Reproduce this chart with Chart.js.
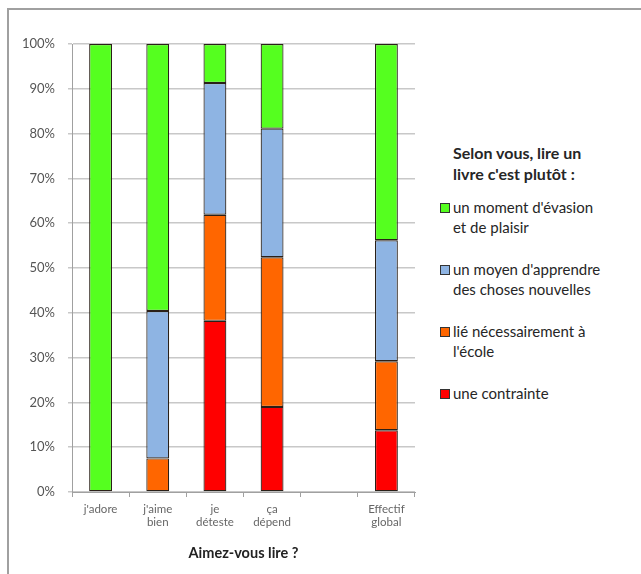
<!DOCTYPE html>
<html>
<head>
<meta charset="utf-8">
<script src="https://cdn.jsdelivr.net/npm/chart.js@4/dist/chart.umd.min.js"></script>
<style>
  html, body { margin: 0; padding: 0; background: #fff; }
  body { width: 641px; height: 574px; position: relative; overflow: hidden; font-family: Lato, "Open Sans", sans-serif; }
  .frame { position: absolute; left: 7px; top: 8px; right: -5px; bottom: -5px; border-top: 2px solid #a0a0a0; border-left: 2px solid #a0a0a0; }
  #wrap { position: absolute; left: 0; top: 0; width: 430px; height: 574px; }
  .legend { position: absolute; left: 440px; top: 142px; color: #262626; font-size: 15px; }
  .legend h3 { margin: 0 0 14px 13px; font-size: 16px; font-weight: bold; line-height: 21px; }
  .legend .item { position: relative; padding-left: 13px; line-height: 19.5px; margin-bottom: 23px; }
  .legend .sw { position: absolute; left: 0; top: 5px; width: 8px; height: 8px; border: 1px solid #333; }
</style>
</head>
<body>
<div class="frame"></div>
<div id="wrap"><canvas id="chart"></canvas></div>
<div class="legend" id="legend">
  <h3>Selon vous, lire un<br>livre c'est plutôt :</h3>
</div>
<script>
// categories (the empty slot keeps the gap before the global column)
const categories = [["j'adore"], ["j'aime", "bien"], ["je", "déteste"], ["ça", "dépend"], "", ["Effectif", "global"]];

// percentages per answer, stacked from the bottom
const contrainte = [0, 0, 38.2, 19.0, null, 13.8];
const ecole = [0, 7.5, 23.7, 33.4, null, 15.4];
const apprendre = [0, 32.9, 29.4, 28.7, null, 27.0];
const evasion = [100, 59.6, 8.7, 18.9, null, 43.8];

const yTicks = [0, 10, 20, 30, 40, 50, 60, 70, 80, 90, 100];

const series = [
  { label: "une contrainte", data: contrainte, color: "#ff0000" },
  { label: "lié nécessairement à\nl'école", data: ecole, color: "#ff6600" },
  { label: "un moyen d'apprendre\ndes choses nouvelles", data: apprendre, color: "#8eb4e3" },
  { label: "un moment d'évasion\net de plaisir", data: evasion, color: "#55ff1f" },
];

// legend on the right, top item = top of the stack
const legend = document.getElementById("legend");
series.slice().reverse().forEach(s => {
  const div = document.createElement("div");
  div.className = "item";
  div.innerHTML = '<span class="sw" style="background:' + s.color + '"></span>' + s.label.replace("\n", "<br>");
  legend.appendChild(div);
});

const ctx = document.getElementById("chart").getContext("2d");
new Chart(ctx, {
  type: "bar",
  data: {
    labels: categories,
    datasets: series.map(s => ({
      label: s.label,
      data: s.data,
      backgroundColor: s.color,
      borderColor: "#2a2018",
      borderWidth: 1.2,
      borderSkipped: false,
      categoryPercentage: 1,
      barPercentage: 0.4,
    })),
  },
  options: {
    responsive: true,
    maintainAspectRatio: false,
    animation: false,
    layout: { padding: { top: 44, right: 15, left: 0, bottom: 8 } },
    plugins: {
      legend: { display: false },
      tooltip: { enabled: false },
    },
    scales: {
      x: {
        stacked: true,
        grid: { drawOnChartArea: false, color: "#a0a0a0", tickLength: 5, offset: true },
        border: { color: "#a0a0a0" },
        ticks: { color: "#666", font: { family: "Lato", size: 11.5, lineHeight: 1.1 }, padding: 6, maxRotation: 0, autoSkip: false },
        title: { display: true, text: "Aimez-vous lire ?", color: "#222", font: { family: "Lato", size: 14.5, weight: "bold" }, padding: { top: 8 } },
        afterFit: axis => { axis.height = 74; },
      },
      y: {
        stacked: true,
        min: 0,
        max: 100,
        afterBuildTicks: axis => { axis.ticks = yTicks.map(v => ({ value: v })); },
        grid: { color: "#c8c8c8", lineWidth: 1.5, tickLength: 4 },
        border: { color: "#a0a0a0" },
        ticks: { color: "#555", font: { family: "Lato", size: 13 }, padding: 13, callback: v => v + "%" },
        afterFit: axis => { axis.width = 72; },
      },
    },
  },
});
</script>
</body>
</html>
